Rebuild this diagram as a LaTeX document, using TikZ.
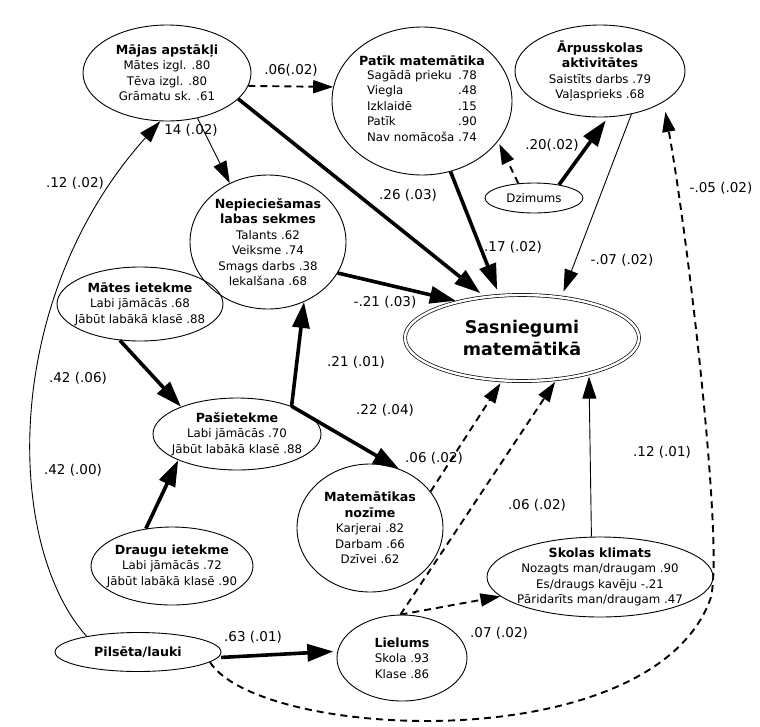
\documentclass[tikz,border=0pt]{standalone}
\usepackage{fontspec}
\setmainfont{DejaVu Sans}
\usetikzlibrary{arrows.meta,shapes.geometric}
\newcommand{\ttl}{\fontsize{12.6}{17}\selectfont\bfseries}
\begin{document}
\begin{tikzpicture}[x=1pt,y=-1pt,
  % negative inner sep keeps each ellipse at its minimum size
  ell/.style={draw, ellipse, line width=0.9pt, inner sep=-40pt, align=center,
    font=\fontsize{11.8}{15.5}\selectfont},
  thk/.style={line width=3.6pt, -{Triangle[length=26pt,width=17pt]}},
  thn/.style={line width=0.9pt, -{Triangle[length=22pt,width=14pt]}},
  dsh/.style={line width=1.9pt, dash pattern=on 7pt off 5pt, -{Triangle[length=20pt,width=13pt]}},
  lbl/.style={font=\fontsize{13.5}{16}\selectfont, inner sep=1pt}
]
\useasboundingbox (0,0) rectangle (760,726);

% latent constructs
\node[ell, minimum width=168pt, minimum height=96pt] (majas) at (167,73)
  {{\ttl Mājas apstākļi}\\ Mātes izgl. .80\\ Tēva izgl. .80\\ Grāmatu sk. .61};
\node[ell, minimum width=180pt, minimum height=148pt] (patik) at (422,101)
  {{\ttl Patīk matemātika}\\[1pt]
   \begin{tabular}{@{}l@{\ }l@{}}
   Sagādā prieku & .78\\ Viegla & .48\\ Izklaidē & .15\\ Patīk & .90\\ Nav nomācoša & .74
   \end{tabular}};
\node[ell, minimum width=170pt, minimum height=92pt] (arpus) at (600,71)
  {{\ttl Ārpusskolas}\\{\ttl aktivitātes}\\ Saistīts darbs .79\\ Vaļasprieks .68};
\node[ell, minimum width=98pt, minimum height=30pt] (dzim) at (534,198) {Dzimums};
\node[ell, minimum width=156pt, minimum height=134pt] (nepie) at (268,242)
  {{\ttl Nepieciešamas}\\{\ttl labas sekmes}\\ Talants .62\\ Veiksme .74\\ Smags darbs .38\\ Iekalšana .68};
\node[ell, minimum width=166pt, minimum height=74pt] (mates) at (140,304)
  {{\ttl Mātes ietekme}\\ Labi jāmācās .68\\ Jābūt labākā klasē .88};
\node[ell, minimum width=168pt, minimum height=72pt] (pasi) at (237,434)
  {{\ttl Pašietekme}\\ Labi jāmācās .70\\ Jābūt labākā klasē .88};
\node[ell, minimum width=162pt, minimum height=78pt] (draugu) at (172,566)
  {{\ttl Draugu ietekme}\\ Labi jāmācās .72\\ Jābūt labākā klasē .90};
\node[ell, minimum width=146pt, minimum height=128pt] (matnoz) at (370,528)
  {{\ttl Matemātikas}\\{\ttl nozīme}\\ Karjerai .82\\ Darbam .66\\ Dzīvei .62};
\node[ell, minimum width=234pt, minimum height=86pt, double, double distance=2.4pt, line width=0.7pt,
  font=\fontsize{17.5}{22}\selectfont\bfseries] (sasn) at (522,338) {Sasniegumi\\matemātikā};
\node[ell, minimum width=226pt, minimum height=80pt] (skolas) at (600,577)
  {{\ttl Skolas klimats}\\ Nozagts man/draugam .90\\ Es/draugs kavēju -.21\\ Pāridarīts man/draugam .47};
\node[ell, minimum width=130pt, minimum height=86pt] (liel) at (402,658)
  {{\ttl Lielums}\\ Skola .93\\ Klase .86};
\node[ell, minimum width=166pt, minimum height=39pt, font=\ttl] (pils) at (138,652) {Pilsēta/lauki};

% paths
\draw[thn] (pils.163) .. controls (5,545) and (0,300) .. (majas.262);
\draw[dsh] (majas.-9) -- (patik.171);
\draw[thn] (majas.-56) -- (nepie.123);
\draw[thk, shorten >=6pt] (majas.-20) -- (sasn.132);
\draw[thk, shorten >=6pt] (patik.-68) -- (sasn.118);
\draw[dsh, shorten >=3pt] (dzim.137) -- (patik.-28);
\draw[thk, shorten >=4pt] (dzim.28) -- (arpus.-80);
\draw[thn, shorten >=6pt] (arpus.-54) -- (sasn.46);
\draw[dsh, shorten >=10pt] (pils.-8) .. controls (260,740) and (650,760) .. (710,600)
  .. controls (725,560) and (690,250) .. (arpus.-26);
\draw[thk, shorten >=3pt] (nepie.-24) -- (sasn.150);
\draw[thk] (mates.-119) -- (pasi.154);
\draw[thk] (draugu.125) -- (pasi.204);
\draw[thk] (pasi.27) -- (nepie.-59);
\draw[thk] (pasi.27) -- (matnoz.64);
\draw[dsh, shorten >=3pt] (matnoz.31) -- (sasn.-115);
\draw[dsh, shorten >=3pt] (liel.92) -- (sasn.-50);
\draw[dsh] (liel.92) -- (skolas.191);
\draw[thn, shorten >=3pt] (skolas.102) -- (sasn.-28);
\draw[thk, shorten <=3pt, shorten >=4pt] (pils.-4) -- (liel.174);

% coefficients
\node[lbl] (c1) at (291,70) {.06(.02)};
\node[lbl] (c2) at (191,130) {14 (.02)};
\node[lbl] (c3) at (75,183) {.12 (.02)};
\node[lbl] (c4) at (408,195) {.26 (.03)};
\node[lbl] (c5) at (513,247) {.17 (.02)};
\node[lbl] (c6) at (552,145) {.20(.02)};
\node[lbl] (c7) at (721,188) {-.05 (.02)};
\node[lbl] (c8) at (622,260) {-.07 (.02)};
\node[lbl] (c9) at (385,302) {-.21 (.03)};
\node[lbl] (c10) at (78,378) {.42 (.06)};
\node[lbl] (c11) at (73,470) {.42 (.00)};
\node[lbl] (c12) at (356,362) {.21 (.01)};
\node[lbl] (c13) at (385,410) {.22 (.04)};
\node[lbl] (c14) at (434,458) {.06 (.02)};
\node[lbl] (c15) at (537,505) {.06 (.02)};
\node[lbl] (c16) at (662,452) {.12 (.01)};
\node[lbl] (c17) at (499,633) {.07 (.02)};
\node[lbl] (c18) at (253,637) {.63 (.01)};
\end{tikzpicture}
\end{document}
